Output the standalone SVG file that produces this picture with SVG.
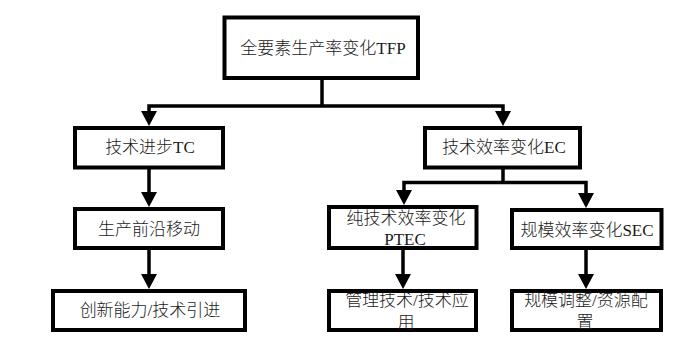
<svg xmlns="http://www.w3.org/2000/svg" width="687" height="341" viewBox="0 0 687 341">
  <style>
    .box { fill: #ffffff; stroke: #000000; stroke-width: 4; }
    .lbl { font-family: "Liberation Serif", "Noto Sans CJK SC", serif; font-size: 17px; fill: #1a1a1a; text-anchor: middle; font-weight: 300; }
    .conn { fill: none; stroke: #000000; stroke-width: 3.5; stroke-linejoin: miter; }
  </style>
  <defs>
    <marker id="arrow" markerUnits="userSpaceOnUse" viewBox="0 0 15 16" markerWidth="15" markerHeight="16" refX="0" refY="8" orient="auto-start-reverse">
      <path d="M0,0 L15,8 L0,16 Z" fill="#000000"/>
    </marker>
  </defs>
  <rect width="687" height="341" fill="#ffffff"/>

  <g id="connectors">
    <path class="conn" d="M322,78 V106"/>
    <path class="conn" d="M149,111 V106 H503 V111" marker-start="url(#arrow)" marker-end="url(#arrow)"/>
    <path class="conn" d="M149,167 V192" marker-end="url(#arrow)"/>
    <path class="conn" d="M149,248 V274" marker-end="url(#arrow)"/>
    <path class="conn" d="M503,167 V182.5"/>
    <path class="conn" d="M404,190 V182.5 H586 V193" marker-start="url(#arrow)" marker-end="url(#arrow)"/>
    <path class="conn" d="M403,248 V274" marker-end="url(#arrow)"/>
    <path class="conn" d="M586,248 V274" marker-end="url(#arrow)"/>
  </g>

  <g id="node-tfp">
    <rect class="box" x="224.5" y="17.5" width="193.5" height="60.5"/>
    <text class="lbl" x="323" y="54">全要素生产率变化TFP</text>
  </g>
  <g id="node-tc">
    <rect class="box" x="75" y="128" width="148" height="39.5"/>
    <text class="lbl" x="150" y="153">技术进步TC</text>
  </g>
  <g id="node-frontier">
    <rect class="box" x="75" y="209" width="148" height="39"/>
    <text class="lbl" x="149" y="235">生产前沿移动</text>
  </g>
  <g id="node-innovation">
    <rect class="box" x="53" y="291" width="192" height="39"/>
    <text class="lbl" x="150" y="316">创新能力/技术引进</text>
  </g>
  <g id="node-ec">
    <rect class="box" x="425" y="128" width="155" height="39.5"/>
    <text class="lbl" x="504" y="153">技术效率变化EC</text>
  </g>
  <g id="node-ptec">
    <rect class="box" x="329" y="207" width="147.5" height="41"/>
    <text class="lbl" x="406" y="224">纯技术效率变化</text>
    <text class="lbl" x="405" y="245">PTEC</text>
  </g>
  <g id="node-sec">
    <rect class="box" x="512" y="210" width="149.5" height="38"/>
    <text class="lbl" x="587" y="236">规模效率变化SEC</text>
  </g>
  <g id="node-management">
    <rect class="box" x="329" y="291" width="147" height="39"/>
    <text class="lbl" x="407" y="306">管理技术/技术应</text>
    <text class="lbl" x="406" y="328">用</text>
  </g>
  <g id="node-scale">
    <rect class="box" x="512" y="291" width="149" height="39"/>
    <text class="lbl" x="586" y="306">规模调整/资源配</text>
    <text class="lbl" x="585" y="328">置</text>
  </g>
</svg>
